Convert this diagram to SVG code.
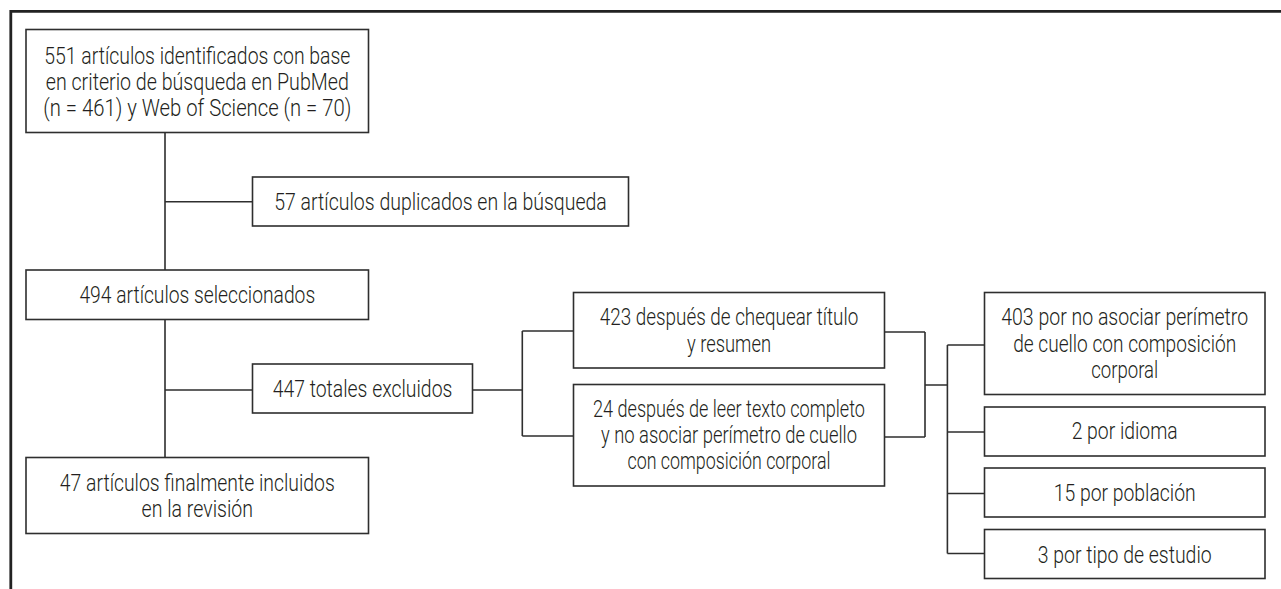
<svg xmlns="http://www.w3.org/2000/svg" width="1281" height="589" viewBox="0 0 1281 589">
<style>
.frame{fill:none;stroke:#222;stroke-width:2.8}
.box{fill:#fff;stroke:#2e2e2e;stroke-width:1.6}
.con{fill:none;stroke:#2e2e2e;stroke-width:1.6}
text{font-family:Roboto,"Liberation Sans",Arial,sans-serif;font-weight:300;font-size:23.5px;fill:#231f20;text-anchor:middle}
</style>
<rect width="1281" height="589" fill="#fff"/>
<path class="frame" d="M10.8 589 V11.3 H1281"/>
<g id="connectors">
<path class="con" d="M165 132.5 V270 M165 201.7 H252.5 M165 319.5 V457.5 M165 390 H252.5 M472.5 390 H522.3 M522.3 331 V436 M522.3 331 H573.5 M522.3 436 H573.5 M884.5 332 H925 M884.5 437 H925 M925 332 V437 M925 385 H947.4 M947.4 345 V553.5 M947.4 345 H984.5 M947.4 432 H984.5 M947.4 493.5 H984.5 M947.4 553.5 H984.5"/>
</g>
<g id="n1">
<rect class="box" x="26" y="29.5" width="342.5" height="103"/>
<text x="197.3" y="63.5" textLength="306" lengthAdjust="spacingAndGlyphs">551 artículos identificados con base</text>
<text x="197.3" y="89.5" textLength="303" lengthAdjust="spacingAndGlyphs">en criterio de búsqueda en PubMed</text>
<text x="197.3" y="115.5" textLength="308" lengthAdjust="spacingAndGlyphs">(n = 461) y Web of Science (n = 70)</text>
</g>
<g id="n2">
<rect class="box" x="252.5" y="177" width="376" height="49"/>
<text x="440.5" y="209.5" textLength="332.5" lengthAdjust="spacingAndGlyphs">57 artículos duplicados en la búsqueda</text>
</g>
<g id="n3">
<rect class="box" x="26" y="270" width="342.5" height="49.5"/>
<text x="197.3" y="303" textLength="235.7" lengthAdjust="spacingAndGlyphs">494 artículos seleccionados</text>
</g>
<g id="n4">
<rect class="box" x="252.5" y="364" width="220" height="49"/>
<text x="362.5" y="397" textLength="179.7" lengthAdjust="spacingAndGlyphs">447 totales excluidos</text>
</g>
<g id="n5">
<rect class="box" x="26" y="457.5" width="342.5" height="76"/>
<text x="197.3" y="491" textLength="275" lengthAdjust="spacingAndGlyphs">47 artículos finalmente incluidos</text>
<text x="197.3" y="517" textLength="111.5" lengthAdjust="spacingAndGlyphs">en la revisión</text>
</g>
<g id="n6">
<rect class="box" x="573.5" y="292.5" width="311" height="75.5"/>
<text x="729" y="325" textLength="258.5" lengthAdjust="spacingAndGlyphs">423 después de chequear título</text>
<text x="729" y="351.5" textLength="84" lengthAdjust="spacingAndGlyphs">y resumen</text>
</g>
<g id="n7">
<rect class="box" x="573.5" y="384.5" width="311" height="101.5"/>
<text x="729" y="417" textLength="272" lengthAdjust="spacingAndGlyphs">24 después de leer texto completo</text>
<text x="729" y="443" textLength="256" lengthAdjust="spacingAndGlyphs">y no asociar perímetro de cuello</text>
<text x="729" y="469" textLength="203" lengthAdjust="spacingAndGlyphs">con composición corporal</text>
</g>
<g id="n8">
<rect class="box" x="984.5" y="292.5" width="280.5" height="102"/>
<text x="1124.7" y="325" textLength="247" lengthAdjust="spacingAndGlyphs">403 por no asociar perímetro</text>
<text x="1124.7" y="351.5" textLength="223" lengthAdjust="spacingAndGlyphs">de cuello con composición</text>
<text x="1124.7" y="378" textLength="67" lengthAdjust="spacingAndGlyphs">corporal</text>
</g>
<g id="n9">
<rect class="box" x="984.5" y="407" width="280.5" height="49"/>
<text x="1124.7" y="439" textLength="106" lengthAdjust="spacingAndGlyphs">2 por idioma</text>
</g>
<g id="n10">
<rect class="box" x="984.5" y="468" width="280.5" height="49"/>
<text x="1124.7" y="501" textLength="142" lengthAdjust="spacingAndGlyphs">15 por población</text>
</g>
<g id="n11">
<rect class="box" x="984.5" y="529.5" width="280.5" height="49"/>
<text x="1124.7" y="563" textLength="174" lengthAdjust="spacingAndGlyphs">3 por tipo de estudio</text>
</g>
</svg>
